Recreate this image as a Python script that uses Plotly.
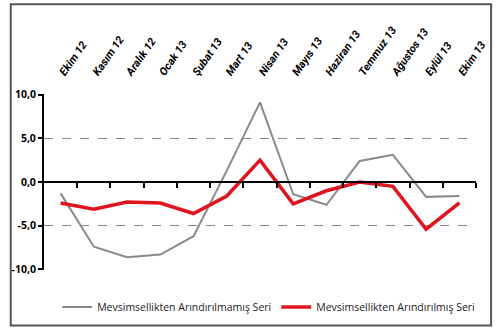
import plotly.graph_objects as go

months = ["Ekim 12", "Kasım 12", "Aralık 12", "Ocak 13", "Şubat 13", "Mart 13", "Nisan 13",
          "Mayıs 13", "Haziran 13", "Temmuz 13", "Ağustos 13", "Eylül 13", "Ekim 13"]
unadjusted = [-1.3, -7.4, -8.6, -8.3, -6.2, 1.3, 9.1, -1.4, -2.6, 2.4, 3.1, -1.7, -1.6]
adjusted = [-2.4, -3.1, -2.3, -2.4, -3.6, -1.6, 2.5, -2.5, -1.0, 0.0, -0.5, -5.4, -2.4]
name_unadj = "Mevsimsellikten Arındırılmamış Seri"
name_adj = "Mevsimsellikten Arındırılmış Seri"
ytick_vals = [-10, -5, 0, 5, 10]
ytick_text = ["-10,0", "-5,0", "0,0", "5,0", "10,0"]

idx = list(range(len(months)))

fig = go.Figure()
fig.add_trace(go.Scatter(x=idx, y=unadjusted, mode="lines", name=name_unadj,
                         line=dict(color="#8a8a8a", width=2)))
fig.add_trace(go.Scatter(x=idx, y=adjusted, mode="lines", name=name_adj, xaxis="x2",
                         line=dict(color="#e0141e", width=3.5)))

xr = [-0.5, len(months) - 0.5]
fig.update_layout(
    width=500, height=333,
    margin=dict(l=36, r=19, t=94, b=60),
    paper_bgcolor="white", plot_bgcolor="white",
    font=dict(family="Open Sans", color="#222"),
    showlegend=True,
    legend=dict(orientation="h", x=0.52, xanchor="center", y=-0.21, yanchor="middle",
                font=dict(size=10.5, color="#222"), itemwidth=30),
    xaxis=dict(range=xr, anchor="free", position=0.5, showgrid=False,
               showline=True, linecolor="black", linewidth=2,
               tickvals=[i + 0.5 for i in idx], ticks="outside", ticklen=5,
               tickwidth=2, tickcolor="black", showticklabels=False, zeroline=False),
    xaxis2=dict(range=xr, overlaying="x", side="top", showgrid=False, showline=False,
                tickvals=idx, ticktext=months, tickangle=-55, ticks="",
                ticklabelstandoff=12,
                tickfont=dict(family="Roboto", size=11, color="black",
                              weight="bold", style="italic"),
                zeroline=False),
    yaxis=dict(range=[-10.06, 10.06], tickvals=ytick_vals, ticktext=ytick_text,
               showgrid=True, gridcolor="#888", griddash="dash", gridwidth=1,
               showline=True, linecolor="black", linewidth=2,
               ticks="outside", ticklen=4, tickwidth=2, tickcolor="black",
               tickfont=dict(size=10.5, color="black", weight="bold"),
               zeroline=False),
    shapes=[dict(type="rect", xref="paper", yref="paper",
                 x0=-0.077, x1=1.035, y0=-0.315, y1=1.51,
                 line=dict(color="#555", width=2), fillcolor="rgba(0,0,0,0)",
                 layer="above")],
)
fig.write_html("out.html")
